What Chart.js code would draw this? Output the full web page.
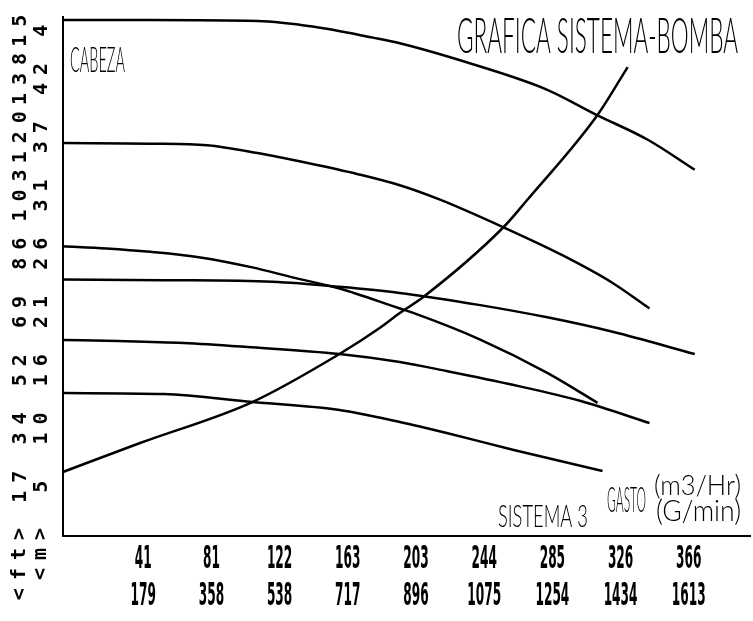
<!DOCTYPE html>
<html>
<head>
<meta charset="utf-8">
<title>Grafica Sistema-Bomba</title>
<script src="https://cdn.jsdelivr.net/npm/chart.js@4.4.1/dist/chart.umd.min.js"></script>
<style>
  html, body { margin: 0; padding: 0; background: #fff; }
  canvas { display: block; }
</style>
</head>
<body>
<canvas id="chart" width="753" height="621"></canvas>
<script>
// Flow Q (m3/hr) and head H (m), top to bottom
const pump1Q = [0, 52, 116, 149, 185, 201, 249, 289, 319, 349, 377];
const pump1H = [46.5, 46.5, 46.4, 45.9, 44.9, 44.4, 42.3, 40.2, 37.9, 35.7, 33.0];

const pump2Q = [0, 52, 86, 116, 146, 176, 201, 225, 263, 298, 328, 350];
const pump2H = [35.4, 35.35, 35.2, 34.5, 33.6, 32.6, 31.6, 30.3, 27.8, 25.3, 22.8, 20.5];

const pump3Q = [0, 26, 52, 82, 113, 137, 165, 201, 209, 249, 289, 319];
const pump3H = [26.1, 25.9, 25.6, 25.1, 24.2, 23.3, 22.3, 20.5, 20.1, 17.7, 14.7, 12.0];

const pump4Q = [0, 60, 125, 165, 201, 249, 289, 328, 377];
const pump4H = [23.1, 23.05, 22.9, 22.45, 21.9, 20.8, 19.7, 18.4, 16.4];

const pump5Q = [0, 33, 72, 110, 165, 201, 229, 269, 309, 350];
const pump5H = [17.66, 17.57, 17.39, 17.03, 16.4, 15.68, 14.86, 13.6, 12.16, 10.18];

const pump6Q = [0, 60, 113, 165, 201, 229, 269, 322];
const pump6H = [12.88, 12.79, 12.07, 11.35, 10.27, 9.28, 7.75, 5.86];

// System curve (Sistema 3)
const systemQ = [0, 46, 113, 165, 189, 201, 215, 263, 277, 319, 337];
const systemH = [5.77, 8.38, 12.07, 16.4, 18.74, 20.09, 21.53, 27.84, 30.27, 37.93, 42.25];

// Flow axis: ticks in m3/hr with the matching US gallons per minute
const flowTicks = [40.7, 81.4, 122.1, 162.8, 203.5, 244.2, 284.9, 325.6, 366.3];
const flowLabelsM3h = ['41', '81', '122', '163', '203', '244', '285', '326', '366'];
const flowLabelsGpm = ['179', '358', '538', '717', '896', '1075', '1254', '1434', '1613'];

// Head axis: ticks in metres with the matching feet
const headTicks = [5.249, 10.498, 15.747, 20.996, 26.245, 31.494, 36.743, 41.992, 47.241];
const headLabelsFt = ['17', '34', '52', '69', '86', '103', '120', '138', '155'];
const headLabelsM = ['5', '10', '16', '21', '26', '31', '37', '42', '47'];

const INK = '#000';
const LABEL_FONT = "'Lato', 'DejaVu Sans', sans-serif";

function toPoints(qs, hs) {
  return qs.map((q, i) => ({ x: q, y: hs[i] }));
}

function curve(qs, hs) {
  return {
    data: toPoints(qs, hs),
    showLine: true,
    borderColor: INK,
    backgroundColor: INK,
    borderWidth: 2.5,
    pointRadius: 0,
    cubicInterpolationMode: 'monotone',
    fill: false
  };
}

// Text squeezed horizontally into a box: cap height from top to baseline
function fitText(ctx, text, left, top, right, base, weight) {
  const size = (base - top) / 0.72;
  ctx.save();
  ctx.font = `${weight} ${size}px ${LABEL_FONT}`;
  const w = ctx.measureText(text).width;
  ctx.translate(left, base);
  ctx.scale((right - left) / w, 1);
  ctx.textAlign = 'left';
  ctx.textBaseline = 'alphabetic';
  ctx.fillStyle = INK;
  ctx.fillText(text, 0, 0);
  ctx.restore();
}

// Narrow centred text for the flow tick labels
function narrowText(ctx, text, cx, cy, size, sx, weight) {
  ctx.save();
  ctx.font = `${weight} ${size}px 'DejaVu Sans'`;
  ctx.translate(cx, cy);
  ctx.scale(sx, 1);
  ctx.textAlign = 'center';
  ctx.textBaseline = 'middle';
  ctx.fillStyle = INK;
  ctx.fillText(text, 0, 0);
  ctx.restore();
}

const printerText = {
  id: 'printerText',
  beforeDraw(chart) {
    const ctx = chart.ctx;
    // axes and their labels stop at the top of the plot frame
    ctx.save();
    ctx.beginPath();
    ctx.rect(0, 16, chart.width, chart.height);
    ctx.clip();
    // wide spacing for the rotated head labels
    ctx.letterSpacing = '8px';
  },
  beforeDatasetsDraw(chart) {
    chart.ctx.restore();
  },
  afterDraw(chart) {
    const ctx = chart.ctx;
    const xs = chart.scales.x;

    // unit marks under the head labels
    ctx.save();
    ctx.letterSpacing = '8px';
    ctx.font = "bold 20px 'DejaVu Sans Mono'";
    ctx.fillStyle = INK;
    ctx.textAlign = 'right';
    ctx.textBaseline = 'middle';
    [['<ft>', 20], ['<m>', 41]].forEach(([t, x]) => {
      ctx.save();
      ctx.translate(x, 520);
      ctx.rotate(-Math.PI / 2);
      ctx.fillText(t, 0, 0);
      ctx.restore();
    });
    ctx.restore();

    // flow tick labels, two rows
    flowTicks.forEach((v, i) => {
      const px = xs.getPixelForValue(v) + 12;
      narrowText(ctx, flowLabelsM3h[i], px, 560, 32, 0.38, 'bold');
      narrowText(ctx, flowLabelsGpm[i], px, 597, 32, 0.38, 'bold');
    });

    fitText(ctx, 'GRAFICA SISTEMA-BOMBA', 457, 18, 738, 53, '300');
    fitText(ctx, 'CABEZA', 70, 47, 125, 72, '300');
    fitText(ctx, 'SISTEMA 3', 498, 505, 588, 527, '300');
    fitText(ctx, 'GASTO', 607, 486, 646, 512, '300');
    fitText(ctx, '(m3/Hr)', 654, 475, 741, 495, '300');
    fitText(ctx, '(G/min)', 656, 500, 741, 521, '300');
  }
};

new Chart(document.getElementById('chart'), {
  type: 'scatter',
  data: {
    datasets: [
      curve(pump1Q, pump1H),
      curve(pump2Q, pump2H),
      curve(pump3Q, pump3H),
      curve(pump4Q, pump4H),
      curve(pump5Q, pump5H),
      curve(pump6Q, pump6H),
      curve(systemQ, systemH)
    ]
  },
  options: {
    responsive: false,
    devicePixelRatio: 1,
    animation: false,
    layout: { padding: { top: 15, right: 3, bottom: 0, left: 0 } },
    plugins: { legend: { display: false }, tooltip: { enabled: false } },
    scales: {
      x: {
        type: 'linear',
        min: 0,
        max: 410,
        afterBuildTicks: s => { s.ticks = flowTicks.map(v => ({ value: v })); },
        afterFit: s => { s.height = 85; s.paddingLeft = 0; s.paddingRight = 0; },
        grid: { display: false, drawTicks: false },
        border: { display: true, color: INK, width: 2 },
        ticks: { display: false }
      },
      y: {
        type: 'linear',
        min: 0,
        max: 46.94,
        afterBuildTicks: s => { s.ticks = headTicks.map(v => ({ value: v })); },
        afterFit: s => { s.width = 63; s.paddingTop = 0; s.paddingBottom = 0; },
        grid: { display: false, drawTicks: false },
        border: { display: true, color: INK, width: 2 },
        ticks: {
          autoSkip: false,
          minRotation: 90,
          maxRotation: 90,
          crossAlign: 'center',
          padding: 14,
          labelOffset: 5,
          color: INK,
          font: { family: "'DejaVu Sans Mono'", size: 20, weight: 'bold', lineHeight: 21 / 20 },
          callback: (v, i) => [headLabelsFt[i], headLabelsM[i]]
        }
      }
    }
  },
  plugins: [printerText]
});
</script>
</body>
</html>
